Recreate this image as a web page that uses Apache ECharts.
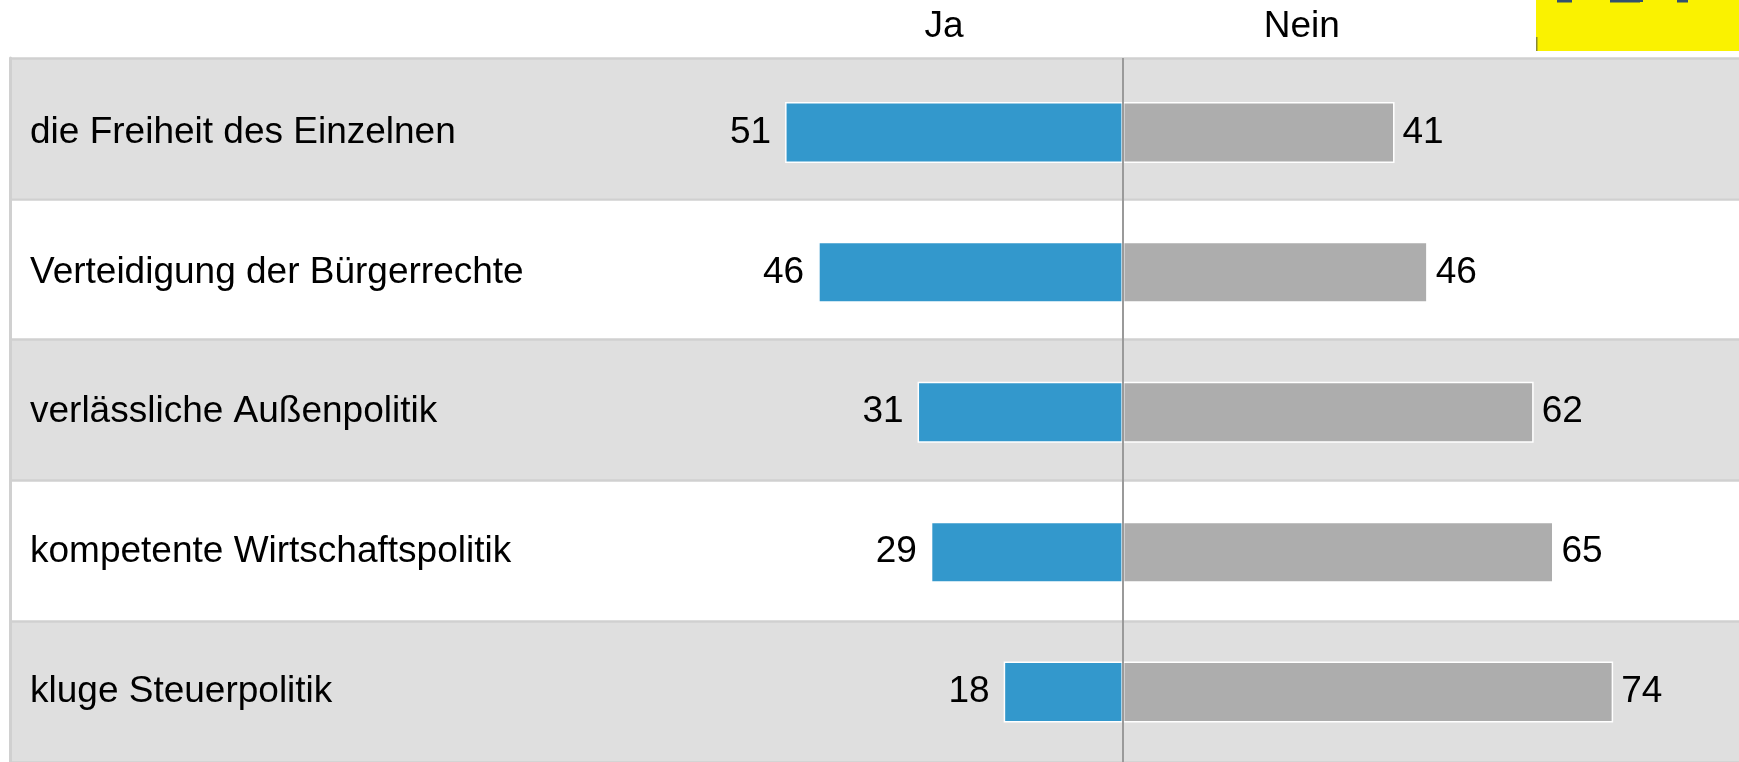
<!DOCTYPE html>
<html>
<head>
<meta charset="utf-8">
<style>
  html, body { margin: 0; padding: 0; background: #ffffff; }
  #chart { width: 1739px; height: 762px; }
</style>
<script src="https://cdn.jsdelivr.net/npm/echarts@6/dist/echarts.min.js"></script>
</head>
<body>
<div id="chart"></div>
<script>
// Survey items, top to bottom
const categories = [
  'die Freiheit des Einzelnen',
  'Verteidigung der Bürgerrechte',
  'verlässliche Außenpolitik',
  'kompetente Wirtschaftspolitik',
  'kluge Steuerpolitik'
];
// Share of answers in percent
const jaValues = [51, 46, 31, 29, 18];
const neinValues = [41, 46, 62, 65, 74];
const columnTitles = ['Ja', 'Nein'];

const FONT = '"Liberation Sans", Arial, sans-serif';
const X_MIN = -168;
const X_MAX = 93;

const chart = echarts.init(document.getElementById('chart'), null, { renderer: 'canvas' });

const option = {
  animation: false,
  backgroundColor: '#ffffff',
  grid: [
    // row bands
    { left: 10, right: 0, top: 58, bottom: 0, containLabel: false },
    // bars and labels, sitting a little below the band centres
    { left: 10, right: 0, top: 62.5, bottom: -4.5, containLabel: false }
  ],
  xAxis: [
    { type: 'value', gridIndex: 0, min: X_MIN, max: X_MAX, show: false },
    { type: 'value', gridIndex: 1, min: X_MIN, max: X_MAX, show: false }
  ],
  yAxis: [
    {
      type: 'category',
      gridIndex: 0,
      data: categories,
      inverse: true,
      axisTick: { show: false },
      axisLabel: { show: false },
      axisLine: { show: true, onZero: false, lineStyle: { color: '#d0d0d0', width: 3 } },
      splitLine: { show: true, lineStyle: { color: '#d0d0d0', width: 2.5 } },
      splitArea: { show: true, areaStyle: { color: ['#dfdfdf', '#ffffff'] } }
    },
    {
      type: 'category',
      gridIndex: 1,
      data: categories,
      inverse: true,
      axisTick: { show: false },
      axisLine: { show: false, onZero: false },
      splitLine: { show: false },
      axisLabel: {
        inside: true,
        margin: 20,
        align: 'left',
        fontFamily: FONT,
        fontSize: 37,
        color: '#000000'
      }
    }
  ],
  series: [
    {
      // zero line between the Ja and Nein sides, full height of the bands
      name: 'zero',
      type: 'line',
      xAxisIndex: 0,
      yAxisIndex: 0,
      data: [],
      markLine: {
        silent: true,
        symbol: 'none',
        label: { show: false },
        lineStyle: { color: '#9a9a9a', width: 2, type: 'solid' },
        data: [{ xAxis: 0 }]
      },
      z: 3
    },
    {
      name: columnTitles[0],
      type: 'bar',
      xAxisIndex: 1,
      yAxisIndex: 1,
      data: jaValues.map(v => -v),
      barWidth: 61,
      barGap: '-100%',
      itemStyle: { color: '#3398cc', borderColor: '#ffffff', borderWidth: 1.5 },
      label: {
        show: true,
        position: 'left',
        distance: 14,
        formatter: p => Math.abs(p.value),
        fontFamily: FONT,
        fontSize: 37,
        color: '#000000'
      },
      z: 2
    },
    {
      name: columnTitles[1],
      type: 'bar',
      xAxisIndex: 1,
      yAxisIndex: 1,
      data: neinValues,
      barWidth: 61,
      itemStyle: { color: '#adadad', borderColor: '#ffffff', borderWidth: 1.5 },
      label: {
        show: true,
        position: 'right',
        distance: 8,
        fontFamily: FONT,
        fontSize: 37,
        color: '#000000'
      },
      z: 2
    }
  ]
};

chart.setOption(option);

// Column headers above the bars and the logo strip in the top right corner
const jaX = chart.convertToPixel({ xAxisIndex: 0 }, -27);
const neinX = chart.convertToPixel({ xAxisIndex: 0 }, 27);

chart.setOption({
  graphic: [
    {
      type: 'text', x: jaX, y: 27,
      style: { text: columnTitles[0], font: '37px ' + FONT, fill: '#000000', align: 'center', verticalAlign: 'middle' }
    },
    {
      type: 'text', x: neinX, y: 27,
      style: { text: columnTitles[1], font: '37px ' + FONT, fill: '#000000', align: 'center', verticalAlign: 'middle' }
    },
    { type: 'rect', shape: { x: 1536, y: 0, width: 203, height: 51 }, style: { fill: '#faf200' } },
    { type: 'rect', shape: { x: 1536, y: 37, width: 1.5, height: 14 }, style: { fill: '#8a8a30' } },
    { type: 'rect', shape: { x: 1557, y: 0, width: 15, height: 2.5 }, style: { fill: '#33506e' } },
    { type: 'rect', shape: { x: 1610, y: 0, width: 30, height: 2.5 }, style: { fill: '#33506e' } },
    { type: 'rect', shape: { x: 1630, y: 0, width: 13, height: 2 }, style: { fill: '#33506e' } },
    { type: 'rect', shape: { x: 1677, y: 0, width: 11, height: 2.5 }, style: { fill: '#33506e' } }
  ]
});
</script>
</body>
</html>
